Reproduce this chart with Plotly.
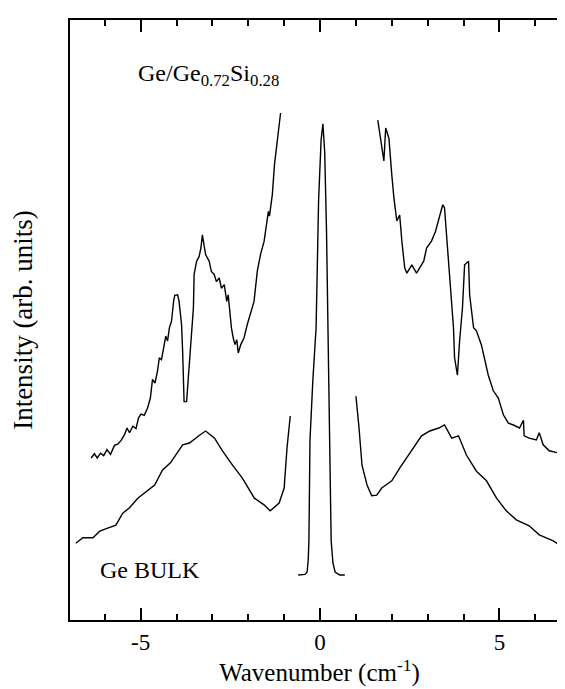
import plotly.graph_objects as go

# Ge/Ge0.72Si0.28 spectrum, anti-Stokes side (wavenumber, intensity arb.)
sl_x = [-6.38, -6.29, -6.21, -6.12, -6.03, -5.94, -5.84, -5.73, -5.64, -5.55, -5.45, -5.38, -5.31, -5.22,
        -5.13, -5.06, -4.99, -4.90, -4.81, -4.73, -4.67, -4.60, -4.53, -4.48, -4.42, -4.34, -4.30, -4.25,
        -4.20, -4.14, -4.11, -4.08, -4.05, -3.97, -3.93, -3.88, -3.86, -3.83, -3.81, -3.79, -3.72, -3.67,
        -3.60, -3.53, -3.51, -3.44, -3.37, -3.32, -3.28, -3.23, -3.19, -3.09, -3.03, -2.95, -2.89, -2.81,
        -2.75, -2.67, -2.60, -2.56, -2.51, -2.47, -2.42, -2.37, -2.32, -2.28, -2.21, -2.12, -2.03, -1.94,
        -1.84, -1.75, -1.66, -1.56, -1.49, -1.44, -1.41, -1.33, -1.27, -1.19, -1.10]
sl_y = [27.0, 27.7, 27.0, 27.8, 27.4, 28.4, 27.6, 29.1, 29.3, 29.9, 30.9, 32.0, 31.2, 32.3,
        31.9, 33.7, 34.3, 34.1, 35.3, 37.0, 40.1, 39.5, 41.5, 43.7, 43.4, 45.9, 47.3, 46.5,
        48.7, 49.8, 51.7, 53.2, 54.1, 54.2, 53.1, 49.8, 49.2, 44.8, 39.2, 36.4, 36.4, 40.9,
        46.4, 52.0, 57.6, 59.8, 60.6, 62.0, 64.2, 62.0, 60.9, 59.8, 58.1, 57.6, 56.4, 57.0,
        55.3, 55.9, 53.1, 54.2, 50.9, 48.7, 47.0, 45.9, 46.7, 44.5, 45.9, 47.0, 49.2, 50.9,
        53.1, 58.1, 60.9, 63.1, 66.4, 68.1, 67.3, 70.9, 75.9, 79.8, 84.5]

# Ge/Ge0.72Si0.28 spectrum, Stokes side
sr_x = [1.61, 1.69, 1.78, 1.83, 1.92, 2.00, 2.06, 2.14, 2.22, 2.28, 2.36, 2.42, 2.56, 2.69, 2.89,
        2.97, 3.11, 3.22, 3.33, 3.42, 3.47, 3.53, 3.61, 3.72, 3.75, 3.83, 3.89, 3.97, 4.03, 4.14,
        4.17, 4.28, 4.36, 4.50, 4.69, 4.83, 4.97, 5.11, 5.25, 5.39, 5.56, 5.67, 5.69, 5.83, 6.03,
        6.11, 6.22, 6.39, 6.67]
sr_y = [83.3, 79.8, 76.5, 82.0, 80.3, 74.2, 70.3, 66.5, 67.5, 63.2, 58.7, 57.8, 59.2, 57.8, 59.8,
        62.0, 63.2, 64.8, 67.0, 69.2, 68.7, 63.7, 57.5, 48.7, 43.7, 40.8, 46.5, 52.0, 59.2, 59.8,
        54.2, 48.7, 48.2, 45.8, 40.8, 38.2, 37.0, 34.2, 32.8, 32.5, 32.0, 33.3, 30.7, 30.3, 30.0,
        31.2, 29.2, 28.2, 27.8]

# Ge bulk spectrum, anti-Stokes side
bl_x = [-6.81, -6.61, -6.33, -6.14, -5.92, -5.69, -5.50, -5.31, -5.08, -4.89, -4.61, -4.39, -4.17,
        -3.83, -3.64, -3.36, -3.19, -2.94, -2.72, -2.44, -2.17, -1.83, -1.56, -1.39, -1.14, -1.00,
        -0.92, -0.83]
bl_y = [12.8, 13.7, 13.7, 14.8, 15.3, 15.8, 17.8, 18.7, 20.3, 21.2, 22.5, 25.0, 26.2,
        29.2, 29.5, 30.8, 31.5, 30.3, 28.2, 25.8, 23.7, 20.3, 19.2, 18.2, 19.5, 22.0,
        28.7, 34.0]

# Ge bulk spectrum, Stokes side
br_x = [1.00, 1.08, 1.17, 1.31, 1.44, 1.58, 1.72, 2.00, 2.22, 2.42, 2.61, 2.83, 3.06, 3.31, 3.47,
        3.67, 3.86, 4.08, 4.36, 4.64, 4.92, 5.19, 5.47, 5.83, 6.11, 6.50, 6.72]
br_y = [37.3, 32.5, 25.8, 22.5, 20.7, 20.8, 22.0, 23.2, 25.3, 27.0, 28.7, 30.7, 31.5, 32.0, 32.5,
        30.3, 30.7, 27.5, 24.8, 23.2, 20.3, 18.2, 16.7, 15.7, 14.2, 13.2, 12.3]

# Central (elastic / laser) peak
cp_x = [-0.61, -0.42, -0.36, -0.33, -0.31, -0.28, -0.20, -0.11, -0.04, 0.03, 0.08, 0.13, 0.18,
        0.22, 0.25, 0.28, 0.31, 0.36, 0.42, 0.55, 0.69]
cp_y = [7.5, 7.6, 8.0, 10.0, 13.2, 30.0, 40.0, 48.7, 70.0, 80.0, 82.7, 78.0, 65.0,
        48.7, 30.0, 18.0, 13.2, 9.5, 8.0, 7.5, 7.5]

x_ticks = [-5, 0, 5]
x_ticklabels = ["-5", "0", "5"]
x_range = [-6.97, 6.94]

FONT = "Liberation Serif"
line = dict(color="black", width=1.4)

fig = go.Figure()
for xs, ys in [(sl_x, sl_y), (sr_x, sr_y), (bl_x, bl_y), (br_x, br_y), (cp_x, cp_y)]:
    fig.add_trace(go.Scatter(x=xs, y=ys, mode="lines", line=line, showlegend=False,
                             hoverinfo="skip"))
# invisible trace so the top tick axis is drawn
fig.add_trace(go.Scatter(x=[x_ticks[1]], y=[cp_y[0]], xaxis="x2", mode="markers",
                         marker=dict(opacity=0), showlegend=False, hoverinfo="skip"))

fig.add_annotation(x=-5.14, y=90.8, xref="x", yref="y", xanchor="left", yanchor="middle",
                   text="Ge/Ge<sub>0.72</sub>Si<sub>0.28</sub>", showarrow=False,
                   font=dict(family=FONT, size=24, color="black"))
fig.add_annotation(x=-6.19, y=8.3, xref="x", yref="y", xanchor="left", yanchor="middle",
                   text="Ge BULK", showarrow=False,
                   font=dict(family=FONT, size=24, color="black"))

tick_common = dict(
    range=x_range, showgrid=False, zeroline=False,
    showline=True, linecolor="black", linewidth=1.8,
    tickvals=x_ticks, ticks="inside", ticklen=12, tickwidth=2, tickcolor="black",
    minor=dict(dtick=1, ticks="inside", ticklen=6, tickwidth=1.8, tickcolor="black"),
)

fig.update_layout(
    width=565, height=689,
    margin=dict(l=62, r=2, t=12, b=77),
    paper_bgcolor="white", plot_bgcolor="white",
    font=dict(family=FONT, color="black"),
    xaxis=dict(
        **tick_common, mirror=True,
        ticktext=x_ticklabels,
        tickfont=dict(family=FONT, size=23, color="black"),
        title=dict(text="Wavenumber (cm<sup>-1</sup>)", font=dict(family=FONT, size=25, color="black"),
                   standoff=6),
    ),
    xaxis2=dict(
        **tick_common, overlaying="x", side="top", anchor="y", showticklabels=False,
    ),
    yaxis=dict(
        range=[0, 100], showgrid=False, zeroline=False, showticklabels=False, ticks="",
        showline=True, linecolor="black", linewidth=1.8, mirror=True,
        title=dict(text="Intensity (arb. units)", font=dict(family=FONT, size=27, color="black"),
                   standoff=28),
    ),
)

fig.write_html("out.html")
